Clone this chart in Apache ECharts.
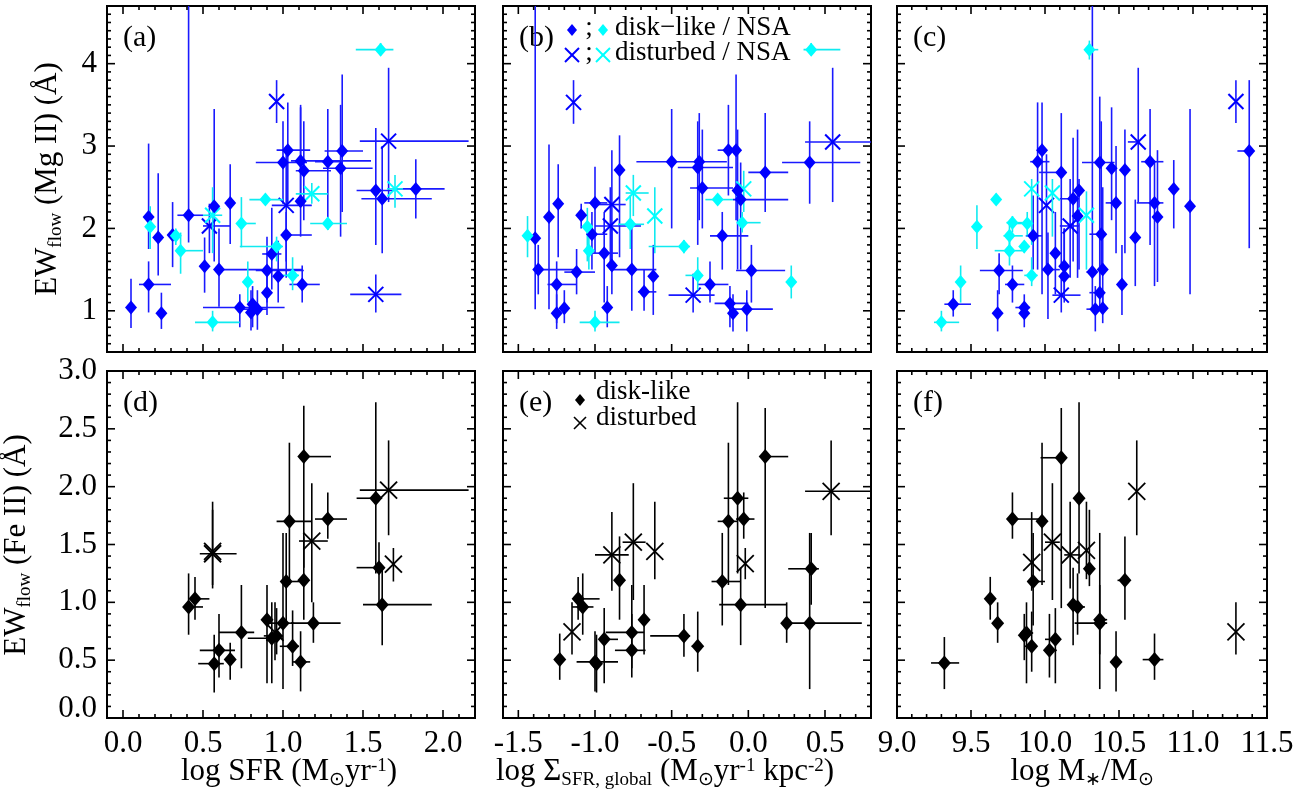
<!DOCTYPE html>
<html>
<head>
<meta charset="utf-8">
<title>Outflow equivalent width vs. galaxy properties</title>
<script src="https://cdn.jsdelivr.net/npm/echarts@6.0.0/dist/echarts.min.js"></script>
<style>
  html, body { margin: 0; padding: 0; background: #fff; }
  #chart { width: 1313px; height: 799px; }
</style>
</head>
<body>
<div id="chart"></div>
<script>
// Each row: [x, y, xLow, xHigh, yLow, yHigh]; null means no bar along that axis.

// ---- Mg II sample (top row), panel (a): log SFR ----
const mgDiskSFR = [
  [0.05, 1.04, null, null, 0.79, 1.39], [0.16, 2.14, null, null, 1.75, 3.03],
  [0.16, 1.32, 0.10, 0.30, 0.98, 1.60], [0.22, 1.89, null, null, 1.43, 2.67],
  [0.24, 0.97, null, null, 0.78, 1.22], [0.31, 1.92, null, null, 1.53, 2.32],
  [0.41, 2.16, 0.34, 0.50, 1.83, 5.00], [0.51, 1.54, null, null, 1.22, 1.89],
  [0.57, 2.27, null, null, 1.60, 3.45], [0.60, 1.50, 0.58, 1.12, 1.05, 2.00],
  [0.67, 2.31, null, null, 1.81, 2.78], [0.73, 1.04, 0.50, 1.01, 0.80, 1.20],
  [0.80, 0.98, null, null, 0.76, 1.25], [0.81, 1.08, null, null, 0.80, 1.30],
  [0.84, 1.02, 0.75, 0.90, 0.77, 1.25], [0.90, 1.49, 0.83, 1.13, 1.10, 1.90],
  [0.90, 1.22, null, null, 0.95, 1.50], [0.93, 1.69, 0.87, 0.99, 1.26, 2.25],
  [0.97, 1.42, null, null, 1.10, 1.85], [1.00, 2.80, 0.83, 1.15, 2.30, 3.30],
  [1.03, 2.95, 0.96, 1.17, 2.30, 3.53], [1.02, 1.92, 0.99, 1.18, 1.40, 2.20],
  [1.11, 2.33, null, null, 1.90, 3.47], [1.11, 2.82, 1.05, 1.55, 2.30, 3.50],
  [1.13, 2.70, 1.08, 1.30, 2.10, 3.30], [1.12, 1.32, 1.04, 1.23, 1.10, 1.55],
  [1.28, 2.81, 1.20, 1.37, 2.10, 3.45], [1.37, 2.94, 1.26, 1.50, 2.20, 3.87],
  [1.36, 2.73, 1.25, 1.56, 1.90, 3.50], [1.58, 2.46, 1.46, 1.69, 1.80, 3.22],
  [1.62, 2.36, 1.49, 1.93, 1.70, 3.00], [1.83, 2.48, 1.69, 2.01, 2.12, 2.84]
];
const mgDistSFR = [
  [0.96, 3.54, null, null, 3.28, 3.80], [0.54, 2.03, 0.50, 0.67, 1.70, 2.30],
  [1.02, 2.28, 0.93, 1.18, 1.60, 3.00], [1.66, 3.06, 1.48, 2.16, 2.32, 3.95],
  [1.58, 1.20, 1.42, 1.74, 0.98, 1.44]
];
const nsaDiskSFR = [
  [1.61, 4.17, 1.455, 1.69, 4.10, 4.25], [0.17, 2.02, null, null, 1.75, 2.27],
  [0.33, 1.91, null, null, 1.80, 2.00], [0.36, 1.73, 0.33, 0.50, 1.45, 1.95],
  [0.74, 2.06, 0.73, 0.83, 1.77, 2.38], [0.89, 2.35, 0.79, 1.00, 2.30, 2.42],
  [0.96, 1.78, 0.73, 1.00, 1.60, 1.90], [1.06, 1.43, 0.97, 1.10, 1.25, 1.65],
  [1.28, 2.06, 1.17, 1.40, 1.98, 2.14], [0.78, 1.35, null, null, 1.10, 1.60],
  [0.56, 0.86, 0.45, 0.73, 0.75, 1.00]
];
const nsaDistSFR = [
  [0.56, 2.16, 0.50, 0.62, 1.70, 2.50], [1.18, 2.42, 1.08, 1.28, 2.30, 2.55],
  [1.70, 2.48, 1.65, 1.75, 2.25, 2.65]
];

// ---- panel (b): log Sigma_SFR,global ----
const mgDiskSig = [
  [-1.39, 1.88, null, null, 1.02, 5.00], [-1.37, 1.50, -1.40, -1.12, 1.20, 1.80],
  [-1.30, 2.14, null, null, 1.02, 3.02], [-1.25, 0.97, null, null, 0.78, 1.20],
  [-1.25, 1.32, -1.31, -1.12, 0.85, 1.60], [-1.24, 2.30, null, null, 1.65, 2.78],
  [-1.20, 1.03, null, null, 0.85, 1.25], [-1.12, 1.47, -1.20, -1.00, 1.20, 1.75],
  [-1.09, 2.16, null, null, 2.00, 2.30], [-1.02, 1.93, -1.05, -0.92, 1.50, 2.20],
  [-1.00, 2.31, -1.07, -0.92, 1.70, 2.75], [-0.94, 1.70, -1.03, -0.85, 1.10, 2.20],
  [-0.92, 1.04, null, null, 0.80, 1.30], [-0.89, 1.55, null, null, 1.20, 2.00],
  [-0.84, 2.71, null, null, 1.65, 3.13], [-0.76, 1.50, -0.90, -0.60, 1.00, 2.10],
  [-0.68, 1.23, -0.72, -0.60, 1.00, 1.50], [-0.62, 1.42, null, null, 0.95, 1.80],
  [-0.50, 2.81, -0.73, -0.14, 2.00, 3.45], [-0.33, 2.74, -0.46, -0.10, 1.80, 3.30],
  [-0.32, 2.81, null, null, 2.10, 3.40], [-0.30, 2.49, -0.38, -0.10, 2.00, 3.20],
  [-0.25, 1.32, -0.33, -0.13, 1.10, 1.60], [-0.17, 1.91, -0.25, 0.00, 1.50, 2.20],
  [-0.13, 2.95, -0.20, -0.05, 2.40, 3.50], [-0.12, 1.09, -0.22, 0.00, 0.80, 1.30],
  [-0.10, 0.97, null, null, 0.75, 1.20], [-0.08, 2.95, null, null, 2.10, 3.87],
  [-0.07, 2.46, null, null, 1.50, 3.20], [-0.05, 2.35, -0.10, 0.26, 1.50, 2.80],
  [-0.01, 1.02, -0.10, 0.16, 0.75, 1.25], [0.02, 1.49, -0.08, 0.24, 1.10, 1.80],
  [0.11, 2.68, 0.00, 0.26, 2.20, 3.40], [0.40, 2.80, 0.22, 0.73, 2.30, 3.30]
];
const mgDistSig = [
  [-1.14, 3.53, null, null, 3.27, 3.80], [-0.89, 2.29, -1.00, -0.80, 1.60, 2.95],
  [-0.90, 2.03, -1.00, -0.70, 1.50, 2.50], [0.55, 3.05, 0.37, 0.80, 2.32, 3.95],
  [-0.36, 1.19, -0.52, -0.22, 0.98, 1.45]
];
const nsaDiskSig = [
  [-1.44, 1.91, null, null, 1.65, 2.15], [-1.05, 2.02, null, null, 1.60, 2.25],
  [-1.04, 1.73, null, null, 1.50, 2.00], [-0.77, 2.05, -0.85, -0.68, 1.75, 2.40],
  [-0.42, 1.78, -0.65, -0.38, 1.70, 1.86], [-0.33, 1.43, -0.41, -0.30, 1.25, 1.65],
  [-0.20, 2.35, -0.28, -0.10, 2.30, 2.40], [-0.04, 2.07, -0.06, 0.08, 1.95, 2.20],
  [-1.00, 0.86, -1.10, -0.84, 0.75, 1.00], [0.28, 1.35, null, null, 1.15, 1.55],
  [0.41, 4.17, 0.36, 0.60, 4.10, 4.25]
];
const nsaDistSig = [
  [-0.75, 2.43, -0.80, -0.65, 2.15, 2.65], [-0.61, 2.15, null, null, 1.70, 2.50],
  [-0.03, 2.48, null, null, 2.20, 2.70]
];

// ---- panel (c): log M*/Msun ----
const mgDiskMass = [
  [9.38, 1.08, 9.32, 9.50, 0.93, 1.25], [9.68, 0.97, null, null, 0.75, 1.25],
  [9.69, 1.49, 9.56, 9.85, 1.20, 1.70], [9.78, 1.32, 9.73, 9.86, 1.10, 1.55],
  [9.86, 1.04, 9.80, 9.90, 0.90, 1.20], [9.86, 0.97, null, null, 0.80, 1.10],
  [9.92, 1.91, 9.87, 9.98, 1.50, 2.40], [9.95, 2.81, 9.90, 10.03, 1.50, 3.53],
  [9.98, 2.95, null, null, 1.20, 3.53], [10.02, 1.50, 9.98, 10.10, 0.90, 1.95],
  [10.07, 1.70, null, null, 1.20, 2.20], [10.11, 2.68, 9.96, 10.11, 1.50, 3.40],
  [10.13, 1.54, null, null, 1.20, 2.00], [10.13, 1.42, null, null, 1.10, 2.00],
  [10.19, 2.36, 10.10, 10.22, 1.60, 3.10], [10.22, 2.15, null, null, 1.40, 3.20],
  [10.23, 2.46, null, null, 1.50, 2.60], [10.32, 1.47, 10.28, 10.35, 1.00, 5.00],
  [10.34, 1.02, 10.28, 10.40, 0.75, 1.30], [10.37, 2.80, 10.25, 10.47, 1.20, 3.60],
  [10.38, 1.93, 10.30, 10.40, 1.50, 3.30], [10.39, 1.50, null, null, 1.00, 2.50],
  [10.37, 1.22, 10.30, 10.40, 1.00, 1.50], [10.39, 1.03, null, null, 0.85, 1.20],
  [10.45, 2.73, null, null, 2.10, 3.47], [10.48, 2.31, 10.41, 10.50, 1.70, 3.00],
  [10.54, 2.71, null, null, 1.70, 3.20], [10.52, 1.32, null, null, 0.95, 1.80],
  [10.61, 1.89, null, null, 1.30, 2.35], [10.71, 2.81, 10.65, 10.80, 1.80, 3.45],
  [10.74, 2.31, 10.62, 10.80, 1.30, 2.80], [10.76, 2.14, null, null, 1.35, 2.95],
  [10.87, 2.48, null, null, 2.00, 2.83], [10.98, 2.27, null, null, 1.20, 3.45],
  [11.38, 2.94, 11.30, 11.38, 1.76, 3.80]
];
const mgDistMass = [
  [10.01, 2.28, null, null, 1.50, 2.90], [10.17, 2.03, 10.10, 10.23, 1.40, 2.60],
  [10.11, 1.19, 10.05, 10.24, 0.98, 1.45], [10.63, 3.05, 10.56, 10.63, 2.32, 3.95],
  [11.29, 3.54, null, null, 3.28, 3.80]
];
const nsaDiskMass = [
  [10.30, 4.17, 10.27, 10.36, 4.05, 4.28], [9.30, 0.86, 9.25, 9.42, 0.75, 1.00],
  [9.43, 1.35, null, null, 1.10, 1.55], [9.54, 2.02, null, null, 1.75, 2.28],
  [9.67, 2.35, null, null, 2.30, 2.42], [9.78, 2.07, 9.74, 9.88, 1.95, 2.15],
  [9.88, 2.06, 9.78, 9.92, 1.90, 2.20], [9.76, 1.91, 9.72, 9.85, 1.70, 2.05],
  [9.76, 1.73, 9.66, 9.86, 1.55, 1.90], [9.86, 1.78, null, null, 1.70, 1.85],
  [9.91, 1.43, 9.86, 9.95, 1.30, 1.65]
];
const nsaDistMass = [
  [9.91, 2.48, null, null, 1.80, 2.60], [10.05, 2.43, null, null, 1.90, 2.60],
  [10.28, 2.16, null, null, 1.50, 2.45]
];

// ---- Fe II sample (bottom row) ----
const feDiskSFR = [
  [0.41, 0.96, 0.41, 0.50, 0.72, 1.25], [0.45, 1.03, 0.43, 0.54, 0.85, 1.22],
  [0.57, 0.47, 0.47, 0.63, 0.22, 0.72], [0.60, 0.585, 0.48, 0.70, 0.35, 0.90],
  [0.67, 0.505, null, null, 0.33, 0.65], [0.74, 0.74, 0.60, 0.82, 0.43, 1.15],
  [0.90, 0.85, null, null, 0.30, 1.15], [0.93, 0.69, 0.78, 1.00, 0.30, 1.00],
  [0.96, 0.71, 0.88, 1.00, 0.55, 0.95], [1.00, 0.82, 0.90, 1.07, 0.25, 1.60],
  [1.02, 1.18, 0.99, 1.10, 0.80, 1.60], [1.04, 1.70, 0.96, 1.18, 1.15, 2.38],
  [1.06, 0.62, 0.98, 1.10, 0.45, 0.93], [1.11, 0.485, 1.06, 1.17, 0.23, 0.75],
  [1.13, 2.26, 1.10, 1.30, 1.30, 2.70], [1.13, 1.19, null, null, 0.85, 1.57],
  [1.19, 0.82, 1.05, 1.36, 0.65, 1.00], [1.28, 1.72, 1.20, 1.40, 1.55, 1.95],
  [1.58, 1.90, 1.46, 1.62, 1.25, 2.73], [1.60, 1.30, 1.46, 1.62, 0.98, 1.52],
  [1.62, 0.98, 1.50, 1.93, 0.63, 1.30]
];
const feDistSFR = [
  [0.56, 1.42, 0.48, 0.71, 1.12, 1.87], [0.56, 1.44, null, null, 1.15, 1.80],
  [0.95, 0.74, null, null, 0.50, 1.00], [1.18, 1.53, 1.10, 1.28, 1.00, 2.03],
  [1.66, 1.97, 1.48, 2.16, 1.58, 2.40], [1.69, 1.33, null, null, 1.18, 1.47]
];
const feDiskSig = [
  [-1.23, 0.505, null, null, 0.33, 0.73], [-1.11, 1.03, -1.12, -0.97, 0.85, 1.22],
  [-1.08, 0.96, -1.15, -1.01, 0.72, 1.25], [-1.00, 0.485, -1.12, -0.85, 0.23, 0.75],
  [-0.99, 0.47, null, null, 0.22, 0.72], [-0.94, 0.68, -0.96, -0.85, 0.30, 0.95],
  [-0.84, 1.19, null, null, 0.85, 1.57], [-0.76, 0.74, -0.93, -0.68, 0.43, 1.15],
  [-0.76, 0.585, -0.87, -0.67, 0.35, 0.90], [-0.68, 0.85, null, null, 0.55, 1.15],
  [-0.42, 0.71, -0.64, -0.38, 0.53, 0.90], [-0.33, 0.62, -0.37, -0.30, 0.40, 0.92],
  [-0.17, 1.18, -0.24, -0.05, 0.80, 1.60], [-0.13, 1.70, -0.20, -0.07, 1.15, 2.38],
  [-0.07, 1.90, -0.16, 0.00, 1.25, 2.73], [-0.03, 1.72, -0.08, 0.04, 1.55, 1.95],
  [-0.05, 0.98, -0.19, 0.25, 0.63, 1.30], [0.11, 2.26, 0.10, 0.26, 0.95, 2.68],
  [0.25, 0.82, null, null, 0.65, 1.00], [0.40, 0.82, 0.25, 0.74, 0.25, 1.60],
  [0.41, 1.29, 0.26, 0.46, 0.98, 1.60]
];
const feDistSig = [
  [-1.15, 0.745, null, null, 0.55, 1.00], [-0.89, 1.41, -1.00, -0.78, 1.10, 1.78],
  [-0.75, 1.52, -0.82, -0.67, 1.02, 2.03], [-0.61, 1.44, null, null, 1.20, 1.87],
  [-0.02, 1.335, null, null, 1.20, 1.47], [0.54, 1.96, 0.37, 0.80, 1.58, 2.40]
];
const feDiskMass = [
  [9.32, 0.476, 9.23, 9.42, 0.25, 0.70], [9.63, 1.03, null, null, 0.85, 1.22],
  [9.68, 0.82, null, null, 0.65, 1.00], [9.78, 1.72, 9.78, 9.97, 1.55, 1.95],
  [9.86, 0.715, null, null, 0.50, 0.90], [9.875, 0.735, 9.85, 9.92, 0.30, 1.00],
  [9.91, 0.62, 9.86, 9.93, 0.40, 0.92], [9.92, 1.18, 9.90, 10.00, 0.80, 1.60],
  [9.98, 1.70, 9.96, 9.99, 1.15, 2.38], [10.03, 0.585, 10.00, 10.08, 0.35, 0.90],
  [10.07, 0.68, 10.00, 10.08, 0.30, 0.95], [10.11, 2.25, 9.97, 10.11, 0.95, 2.68],
  [10.19, 0.98, null, null, 0.63, 1.30], [10.22, 0.96, 10.20, 10.27, 0.72, 1.25],
  [10.23, 1.90, null, null, 1.25, 2.73], [10.30, 1.29, 10.27, 10.32, 1.14, 1.80],
  [10.37, 0.85, 10.33, 10.42, 0.55, 1.15], [10.37, 0.82, 10.20, 10.42, 0.25, 1.60],
  [10.48, 0.485, null, null, 0.23, 0.75], [10.54, 1.19, 10.49, 10.55, 0.85, 1.57],
  [10.74, 0.505, 10.66, 10.80, 0.33, 0.73]
];
const feDistMass = [
  [9.91, 1.345, null, null, 1.10, 1.78], [10.05, 1.52, 10.00, 10.10, 1.02, 2.03],
  [10.17, 1.41, 10.13, 10.24, 1.12, 1.87], [10.28, 1.45, null, null, 1.20, 1.87],
  [10.62, 1.96, null, null, 1.58, 2.40], [11.29, 0.745, null, null, 0.55, 1.00]
];

// ---- axes ----
const X_RANGES = [[-0.1, 2.2], [-1.6, 0.8], [9.0, 11.5]];
const Y_RANGES = [[0.5, 4.7], [0.0, 3.0]];
const X_MAJOR = 0.5;
const Y_MAJOR = [1, 0.5];
const MINOR = 0.1;
const PANEL_TAGS = ['(a)', '(b)', '(c)', '(d)', '(e)', '(f)'];

// ---- layout & styles ----
const COLS = [{ left: 107, width: 368 }, { left: 503, width: 368 }, { left: 897, width: 370 }];
const ROWS = [{ top: 6, height: 346 }, { top: 371, height: 347 }];
const FONT = "'Liberation Serif', 'Times New Roman', Times, serif";
const BLUE = '#0000ff', BLUE_BAR = '#1a1aff';
const CYAN = '#00ffff', CYAN_BAR = '#10eaf0';
const BLACK = '#000000';

function isMult(v, step) {
  const q = v / step;
  return Math.abs(q - Math.round(q)) < 1e-6;
}
function fmt1(v) { return Math.abs(v) < 1e-9 ? '0.0' : v.toFixed(1); }

const grids = [], xAxes = [], yAxes = [], series = [];

function tickRows(xr, yr, yMajor) {
  const out = [];
  const eps = 1e-6;
  for (let k = Math.ceil(xr[0] / MINOR - eps); k * MINOR <= xr[1] + eps; k++) {
    const v = +(k * MINOR).toFixed(6);
    if (v <= xr[0] + eps || v >= xr[1] - eps) continue;
    out.push([v, yr[0], isMult(v, X_MAJOR) ? 1 : 0, 0]);
  }
  for (let k = Math.ceil(yr[0] / MINOR - eps); k * MINOR <= yr[1] + eps; k++) {
    const v = +(k * MINOR).toFixed(6);
    if (v <= yr[0] + eps || v >= yr[1] - eps) continue;
    out.push([xr[0], v, isMult(v, yMajor) ? 1 : 0, 1]);
  }
  return out;
}

function renderTick(params, api) {
  const major = api.value(2) === 1;
  const onY = api.value(3) === 1;
  const len = major ? 8 : 4;
  const cs = params.coordSys;
  const st = { stroke: BLACK, lineWidth: 1.6 };
  const p = api.coord([api.value(0), api.value(1)]);
  if (!onY) {
    const b = cs.y + cs.height, t = cs.y;
    return { type: 'group', children: [
      { type: 'line', shape: { x1: p[0], y1: b, x2: p[0], y2: b - len }, style: st },
      { type: 'line', shape: { x1: p[0], y1: t, x2: p[0], y2: t + len }, style: st }
    ] };
  }
  const l = cs.x, r = cs.x + cs.width;
  return { type: 'group', children: [
    { type: 'line', shape: { x1: l, y1: p[1], x2: l + len, y2: p[1] }, style: st },
    { type: 'line', shape: { x1: r, y1: p[1], x2: r - len, y2: p[1] }, style: st }
  ] };
}

function fillBounds(rows) {
  return rows.map(r => [r[0], r[1],
    r[2] == null ? r[0] : r[2], r[3] == null ? r[0] : r[3],
    r[4] == null ? r[1] : r[4], r[5] == null ? r[1] : r[5]]);
}

function errorSeries(gi, rows, color) {
  return {
    type: 'custom', xAxisIndex: gi, yAxisIndex: gi, clip: true, silent: true,
    data: fillBounds(rows),
    renderItem(params, api) {
      const x = api.value(0), y = api.value(1);
      const st = { stroke: color, lineWidth: 1.6 };
      const kids = [];
      if (api.value(3) > api.value(2)) {
        const a = api.coord([api.value(2), y]), b = api.coord([api.value(3), y]);
        kids.push({ type: 'line', shape: { x1: a[0], y1: a[1], x2: b[0], y2: b[1] }, style: st });
      }
      if (api.value(5) > api.value(4)) {
        const a = api.coord([x, api.value(4)]), b = api.coord([x, api.value(5)]);
        kids.push({ type: 'line', shape: { x1: a[0], y1: a[1], x2: b[0], y2: b[1] }, style: st });
      }
      return { type: 'group', children: kids };
    }
  };
}

function diamondSeries(gi, rows, color, size) {
  return {
    type: 'scatter', xAxisIndex: gi, yAxisIndex: gi, silent: true,
    symbol: 'diamond', symbolSize: size,
    itemStyle: { color: color, opacity: 1 },
    data: rows.map(r => [r[0], r[1]])
  };
}

function crossSeries(gi, rows, color, half, width) {
  return {
    type: 'custom', xAxisIndex: gi, yAxisIndex: gi, clip: true, silent: true,
    data: rows.map(r => [r[0], r[1]]),
    renderItem(params, api) {
      const c = api.coord([api.value(0), api.value(1)]);
      const st = { stroke: color, lineWidth: width };
      return { type: 'group', children: [
        { type: 'line', shape: { x1: c[0] - half, y1: c[1] - half, x2: c[0] + half, y2: c[1] + half }, style: st },
        { type: 'line', shape: { x1: c[0] - half, y1: c[1] + half, x2: c[0] + half, y2: c[1] - half }, style: st }
      ] };
    }
  };
}

const topSets = [
  [mgDiskSFR, mgDistSFR, nsaDiskSFR, nsaDistSFR],
  [mgDiskSig, mgDistSig, nsaDiskSig, nsaDistSig],
  [mgDiskMass, mgDistMass, nsaDiskMass, nsaDistMass]
];
const bottomSets = [
  [feDiskSFR, feDistSFR],
  [feDiskSig, feDistSig],
  [feDiskMass, feDistMass]
];

const labelStyle = { fontFamily: FONT, fontSize: 31, color: BLACK };

for (let row = 0; row < 2; row++) {
  for (let col = 0; col < 3; col++) {
    const gi = row * 3 + col;
    const xr = X_RANGES[col], yr = Y_RANGES[row];
    grids.push({
      left: COLS[col].left, top: ROWS[row].top,
      width: COLS[col].width, height: ROWS[row].height,
      show: true, borderColor: BLACK, borderWidth: 2,
      backgroundColor: 'transparent', containLabel: false
    });
    xAxes.push({
      gridIndex: gi, type: 'value', min: xr[0], max: xr[1], interval: MINOR,
      axisLine: { show: false }, axisTick: { show: false }, splitLine: { show: false },
      axisLabel: Object.assign({
        show: row === 1, interval: 0, margin: 10,
        showMinLabel: true, showMaxLabel: true,
        formatter: v => isMult(v, X_MAJOR) ? fmt1(v) : ''
      }, labelStyle)
    });
    yAxes.push({
      gridIndex: gi, type: 'value', min: yr[0], max: yr[1], interval: MINOR,
      axisLine: { show: false }, axisTick: { show: false }, splitLine: { show: false },
      axisLabel: Object.assign({
        show: col === 0, interval: 0, margin: 10,
        showMinLabel: true, showMaxLabel: true,
        formatter: row === 0
          ? (v => isMult(v, Y_MAJOR[0]) ? String(Math.round(v)) : '')
          : (v => isMult(v, Y_MAJOR[1]) ? (Math.abs(v) < 1e-9 ? '{z|0.0}' : fmt1(v)) : ''),
        rich: { z: { fontFamily: FONT, fontSize: 31, color: BLACK, padding: [0, 0, 18, 0] } }
      }, labelStyle)
    });

    series.push({
      type: 'custom', xAxisIndex: gi, yAxisIndex: gi, clip: false, silent: true, z: 5,
      data: tickRows(xr, yr, Y_MAJOR[row]), renderItem: renderTick
    });

    if (row === 0) {
      const [bd, bx, cd, cx] = topSets[col];
      series.push(errorSeries(gi, bd, BLUE_BAR));
      series.push(errorSeries(gi, bx, BLUE_BAR));
      series.push(diamondSeries(gi, bd, BLUE, [12, 14]));
      series.push(crossSeries(gi, bx, BLUE, 7.5, 2));
      series.push(errorSeries(gi, cd, CYAN_BAR));
      series.push(errorSeries(gi, cx, CYAN_BAR));
      series.push(diamondSeries(gi, cd, CYAN, [12, 14]));
      series.push(crossSeries(gi, cx, CYAN, 7.5, 2));
    } else {
      const [dd, dx] = bottomSets[col];
      series.push(errorSeries(gi, dd, BLACK));
      series.push(errorSeries(gi, dx, BLACK));
      series.push(diamondSeries(gi, dd, BLACK, [13, 15]));
      series.push(crossSeries(gi, dx, BLACK, 8.5, 1.8));
    }
  }
}

// ---- titles, panel tags, legends ----
const richBase = {
  m: { fontFamily: FONT, fontSize: 31, lineHeight: 34, fill: BLACK, color: BLACK },
  sub: { fontFamily: FONT, fontSize: 19, lineHeight: 19, padding: [16, 0, 0, 0], fill: BLACK, color: BLACK },
  sup: { fontFamily: FONT, fontSize: 19, lineHeight: 19, padding: [0, 0, 12, 0], fill: BLACK, color: BLACK }
};

function richText(x, y, text, rotation) {
  return {
    type: 'text', x: x, y: y, rotation: rotation || 0, silent: true,
    style: {
      text: text, rich: richBase, fontFamily: FONT, fontSize: 31, fill: BLACK,
      align: 'center', verticalAlign: 'middle',
      textAlign: 'center', textVerticalAlign: 'middle'
    }
  };
}
function plainText(x, y, text, size, align) {
  return {
    type: 'text', x: x, y: y, silent: true,
    style: {
      text: text, fontFamily: FONT, fontSize: size, fill: BLACK,
      align: align || 'left', verticalAlign: 'middle',
      textAlign: align || 'left', textVerticalAlign: 'middle'
    }
  };
}
function diamondGlyph(cx, cy, w, h, color) {
  return { type: 'polygon', silent: true,
    shape: { points: [[cx, cy - h / 2], [cx + w / 2, cy], [cx, cy + h / 2], [cx - w / 2, cy]] },
    style: { fill: color } };
}
function crossGlyph(cx, cy, half, color, width) {
  const st = { stroke: color, lineWidth: width };
  return { type: 'group', silent: true, children: [
    { type: 'line', shape: { x1: cx - half, y1: cy - half, x2: cx + half, y2: cy + half }, style: st },
    { type: 'line', shape: { x1: cx - half, y1: cy + half, x2: cx + half, y2: cy - half }, style: st }
  ] };
}

const graphics = [];
graphics.push(richText(48, 179, '{m|EW}{sub|flow}{m| (Mg II) (Å)}', Math.PI / 2));
graphics.push(richText(17, 545, '{m|EW}{sub|flow}{m| (Fe II) (Å)}', Math.PI / 2));
graphics.push(richText(289, 772, '{m|log SFR (M}{sub|⊙}{m|yr}{sup|-1}{m|)}'));
graphics.push(richText(665, 772, '{m|log Σ}{sub|SFR, global}{m| (M}{sub|⊙}{m|yr}{sup|-1}{m| kpc}{sup|-2}{m|)}'));
graphics.push(richText(1082, 772, '{m|log M}{sub|∗}{m|/M}{sub|⊙}'));

for (let row = 0; row < 2; row++) {
  for (let col = 0; col < 3; col++) {
    graphics.push(plainText(COLS[col].left + 16, ROWS[row].top + 32, PANEL_TAGS[row * 3 + col], 30));
  }
}

// legend in panel (b)
graphics.push(diamondGlyph(572, 30, 10, 12, BLUE));
graphics.push(plainText(589, 28, ';', 27, 'center'));
graphics.push(diamondGlyph(603, 30, 10, 12, CYAN));
graphics.push(plainText(615, 28, 'disk−like / NSA', 27));
graphics.push(crossGlyph(572, 55, 7, BLUE, 2));
graphics.push(plainText(589, 53, ';', 27, 'center'));
graphics.push(crossGlyph(603, 55, 7, CYAN, 2));
graphics.push(plainText(615, 53, 'disturbed / NSA', 27));

// legend in panel (e)
graphics.push(diamondGlyph(580, 400, 10, 12, BLACK));
graphics.push(plainText(596, 392, 'disk-like', 27));
graphics.push(crossGlyph(580, 423, 6, BLACK, 1.6));
graphics.push(plainText(596, 418, 'disturbed', 27));

const chart = echarts.init(document.getElementById('chart'), null, { renderer: 'canvas' });
chart.setOption({
  animation: false,
  backgroundColor: '#ffffff',
  grid: grids,
  xAxis: xAxes,
  yAxis: yAxes,
  series: series,
  graphic: { elements: graphics }
});
</script>
</body>
</html>
